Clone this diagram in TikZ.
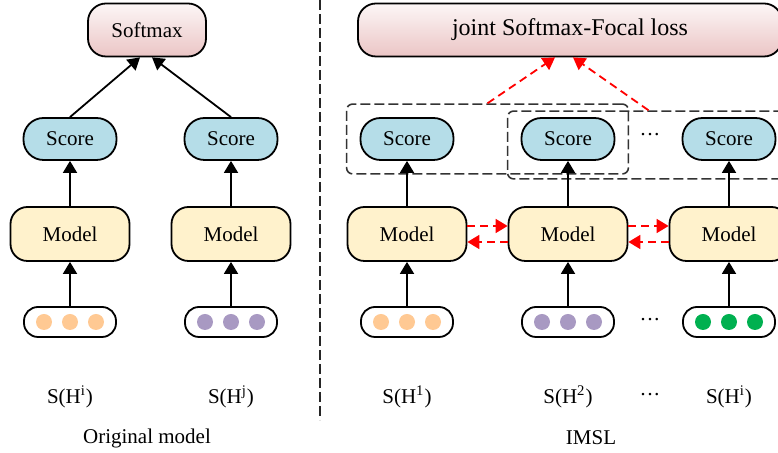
\documentclass[tikz,border=0pt]{standalone}
\usepackage{fontspec}
\setmainfont{Liberation Serif}
\usetikzlibrary{arrows.meta, fit}
\definecolor{scoreBlue}{HTML}{B5DDE8}
\definecolor{modelYellow}{HTML}{FFF2CC}
\definecolor{lossTop}{HTML}{FCF6F6}
\definecolor{lossBottom}{HTML}{EBC5C5}
\definecolor{dotOrange}{HTML}{FFC993}
\definecolor{dotPurple}{HTML}{A899C2}
\definecolor{dotGreen}{HTML}{00B050}
\tikzstyle{arrow} = [line width=0.9pt,-{Triangle[width=7pt,length=6pt]}]
\tikzstyle{redarrow} = [line width=0.9pt, red, dash pattern=on 4pt off 2.5pt, -{Triangle[width=7pt,length=6pt]}]
\tikzstyle{loss} = [rectangle, rounded corners=9pt, minimum height=26.5pt, draw=black, line width=0.9pt, top color=lossTop, bottom color=lossBottom]
\tikzstyle{score} = [rectangle, rounded corners=10pt, minimum width=46.5pt, minimum height=21pt, draw=black, line width=0.9pt, fill=scoreBlue]
\tikzstyle{model} = [rectangle, rounded corners=8.5pt, minimum width=59.5pt, minimum height=27pt, draw=black, line width=0.9pt, fill=modelYellow]
\tikzstyle{group} = [rectangle, rounded corners=3pt, draw=black!80, line width=0.8pt, dash pattern=on 5pt off 2pt]
\tikzstyle{divider} = [black!85, line width=1.2pt, dash pattern=on 5pt off 2pt]
\newcommand\ppbb{path picture bounding box}
\newcommand\middots{\symbol{"B7}\symbol{"B7}\symbol{"B7}}
\tikzset{
	inputs/.style = {rectangle, rounded corners=7pt, draw=black, line width=0.9pt,
		minimum width=46pt, minimum height=15pt,
		path picture={\fill[#1]
			([xshift=-13pt] \ppbb.center) circle (4pt)
			(\ppbb.center) circle (4pt)
			([xshift= 13pt] \ppbb.center) circle (4pt);
		},% end of path picture
	}
}

\begin{document}
\begin{tikzpicture}[node distance=80.5pt, font=\fontsize{10.5}{12}\selectfont]
\useasboundingbox (0,0) rectangle (389pt,-226.5pt);
% Placement of nodes (original model)
\node (softmax) [loss, minimum width=59pt] at (73.5pt,-15pt) {Softmax};
\node (scoreI) [score] at (35pt,-69.5pt) {Score};
\node (scoreJ) [score, right of=scoreI] {Score};
\node (modelI) [model, below of=scoreI, node distance=47.5pt] {Model};
\node (modelJ) [model, below of=scoreJ, node distance=47.5pt] {Model};
\node (inI) [inputs=dotOrange, below of=modelI, node distance=44pt] {};
\node (inJ) [inputs=dotPurple, below of=modelJ, node distance=44pt] {};
\node (labI) [below of=inI, node distance=37.5pt] {S(H\textsuperscript{i})};
\node (labJ) [below of=inJ, node distance=37.5pt] {S(H\textsuperscript{j})};
\node (origCap) at (73.5pt,-219pt) {Original model};

% divider
\draw [divider] (160pt,0pt) -- (160pt,-210pt);

% Placement of nodes (IMSL)
\node (jointLoss) [loss, minimum width=212pt, font=\fontsize{12}{14}\selectfont] at (285pt,-15pt) {joint Softmax-Focal loss};
\node (score1) [score] at (203.5pt,-69.5pt) {Score};
\node (score2) [score, right of=score1] {Score};
\node (scoreN) [score, right of=score2] {Score};
\node (model1) [model, below of=score1, node distance=47.5pt] {Model};
\node (model2) [model, below of=score2, node distance=47.5pt] {Model};
\node (modelN) [model, below of=scoreN, node distance=47.5pt] {Model};
\node (in1) [inputs=dotOrange, below of=model1, node distance=44pt] {};
\node (in2) [inputs=dotPurple, below of=model2, node distance=44pt] {};
\node (inN) [inputs=dotGreen, below of=modelN, node distance=44pt] {};
\node (lab1) [below of=in1, node distance=37.5pt] {S(H\textsuperscript{1})};
\node (lab2) [below of=in2, node distance=37.5pt] {S(H\textsuperscript{2})};
\node (labN) [below of=inN, node distance=37.5pt] {S(H\textsuperscript{i})};
\node (dotsScore) at (325pt,-68.5pt) {\middots};
\node (dotsIn) at (325pt,-161pt) {\middots};
\node (dotsLab) at (325pt,-198.5pt) {\middots};
\node (imslCap) at (295.5pt,-219pt) {IMSL};

% Score groups
\node (grpA) [group, fit=(score1)(score2), inner xsep=6.5pt, inner ysep=6.5pt] {};
\node (grpB) [group, fit=(score2)(scoreN), inner xsep=6.5pt, inner ysep=6pt, yshift=-3pt] {};

% Placement of edges
\draw [arrow] (scoreI.north) -- ([xshift=-3.5pt]softmax.south);
\draw [arrow] (scoreJ.north) -- ([xshift=2.5pt]softmax.south);
\draw [arrow] (modelI) -- (scoreI);
\draw [arrow] (modelJ) -- (scoreJ);
\draw [arrow] (inI) -- (modelI);
\draw [arrow] (inJ) -- (modelJ);

\draw [arrow] (model1) -- (score1);
\draw [arrow] (model2) -- (score2);
\draw [arrow] (modelN) -- (scoreN);
\draw [arrow] (in1) -- (model1);
\draw [arrow] (in2) -- (model2);
\draw [arrow] (inN) -- (modelN);

% mutual learning
\draw [redarrow] ([yshift=4pt]model1.east) -- ([yshift=4pt]model2.west);
\draw [redarrow] ([yshift=-4pt]model2.west) -- ([yshift=-4pt]model1.east);
\draw [redarrow] ([yshift=4pt]model2.east) -- ([yshift=4pt]modelN.west);
\draw [redarrow] ([yshift=-4pt]modelN.west) -- ([yshift=-4pt]model2.east);

% joint loss
\draw [redarrow] (grpA.north) -- ([xshift=-7.5pt]jointLoss.south);
\draw [redarrow] (grpB.north) -- ([xshift=1.5pt]jointLoss.south);
\end{tikzpicture}
\end{document}
